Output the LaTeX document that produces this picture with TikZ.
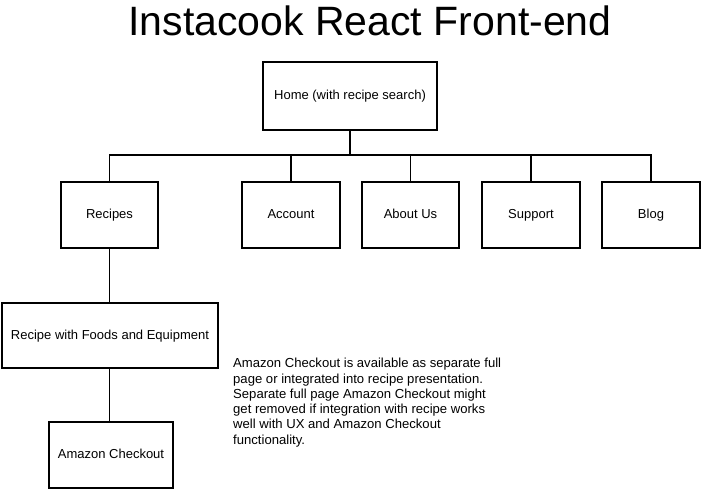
\documentclass[tikz,border=0pt]{standalone}
\usepackage{fontspec}
\setmainfont{Liberation Sans}
\begin{document}
\begin{tikzpicture}[x=1pt, y=-1pt]
    \tikzstyle{box}=[draw, line width=2pt, font=\fontsize{13}{15}\selectfont, inner sep=0pt,
        text height=9.5pt, text depth=2.5pt]
    \tikzstyle{link}=[line width=1.6pt]
    \useasboundingbox (0, 0) rectangle (701, 491);

    \node (title) at (370, 21) {\fontsize{41}{45}\selectfont Instacook React Front-end};

    \node (home) at (350, 96) [box, minimum width=174, minimum height=68] {Home (with recipe search)};

    \node (recipes) at (109.5, 215) [box, minimum width=97, minimum height=66] {Recipes};
    \node (account) at (291, 215) [box, minimum width=98, minimum height=66] {Account};
    \node (about) at (410.5, 215) [box, minimum width=97, minimum height=66] {About Us};
    \node (support) at (531, 215) [box, minimum width=98, minimum height=66] {Support};
    \node (blog) at (651, 215) [box, minimum width=98, minimum height=66] {Blog};

    \node (foods) at (110, 335.5) [box, minimum width=216, minimum height=65] {Recipe with Foods and Equipment};
    \node (checkout) at (111, 455) [box, minimum width=124, minimum height=66] {Amazon Checkout};

    \coordinate (bus) at (350, 155);

    % home to the first row
    \draw [link] (home.south) to (bus);
    \draw [link] (recipes.north) |- (bus) -| (blog.north);
    \draw [link] (bus -| account.north) to (account.north);
    \draw [link] (bus -| about.north) to (about.north);
    \draw [link] (bus -| support.north) to (support.north);

    % recipes branch
    \draw [link] (recipes.south) to (foods.north -| recipes.south);
    \draw [link] (foods.south -| recipes.south) to (checkout.north -| recipes.south);

    \node (note) at (233, 358) [anchor=north west, align=left, inner sep=0pt,
        font=\fontsize{13.1}{15.3}\selectfont]
        {Amazon Checkout is available as separate full\\
         page or integrated into recipe presentation.\\
         Separate full page Amazon Checkout might\\
         get removed if integration with recipe works\\
         well with UX and Amazon Checkout\\
         functionality.};

\end{tikzpicture}
\end{document}
